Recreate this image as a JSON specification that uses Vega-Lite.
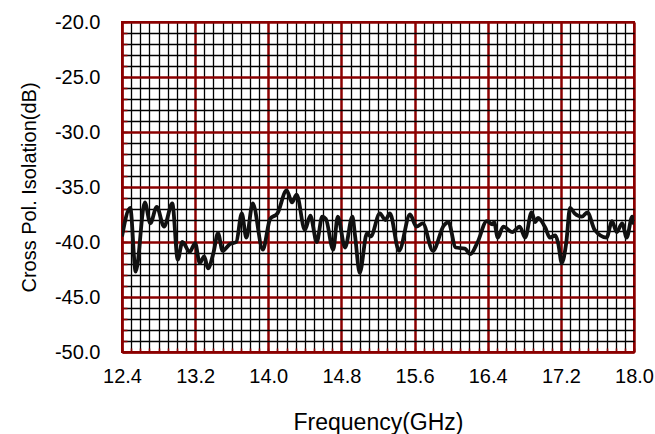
{
  "$schema": "https://vega.github.io/schema/vega-lite/v6.json",
  "autosize": {"type": "none"},
  "width": 512,
  "height": 330,
  "padding": {"left": 122, "top": 22, "right": 21, "bottom": 82},
  "background": "white",
  "config": {
    "view": {"stroke": "#8b0000", "strokeWidth": 2},
    "font": "Liberation Sans"
  },
  "data": {
    "values": [
      {"f": 12.40, "v": -39.5}, {"f": 12.49, "v": -36.9}, {"f": 12.55, "v": -42.7}, {"f": 12.65, "v": -36.4},
      {"f": 12.71, "v": -38.3}, {"f": 12.78, "v": -36.8}, {"f": 12.86, "v": -38.6}, {"f": 12.95, "v": -36.5},
      {"f": 13.01, "v": -41.6}, {"f": 13.06, "v": -40.0}, {"f": 13.14, "v": -40.9}, {"f": 13.20, "v": -40.1},
      {"f": 13.25, "v": -41.9}, {"f": 13.30, "v": -41.3}, {"f": 13.34, "v": -42.4}, {"f": 13.40, "v": -41.0},
      {"f": 13.45, "v": -39.2}, {"f": 13.50, "v": -40.8}, {"f": 13.58, "v": -40.2}, {"f": 13.65, "v": -40.0},
      {"f": 13.71, "v": -37.4}, {"f": 13.76, "v": -39.6}, {"f": 13.83, "v": -36.5}, {"f": 13.94, "v": -40.7},
      {"f": 14.02, "v": -37.9}, {"f": 14.10, "v": -37.4}, {"f": 14.20, "v": -35.3}, {"f": 14.26, "v": -36.4},
      {"f": 14.31, "v": -35.7}, {"f": 14.40, "v": -38.9}, {"f": 14.46, "v": -37.6}, {"f": 14.53, "v": -40.0},
      {"f": 14.59, "v": -37.7}, {"f": 14.63, "v": -37.9}, {"f": 14.71, "v": -40.7}, {"f": 14.76, "v": -37.7},
      {"f": 14.84, "v": -40.5}, {"f": 14.92, "v": -37.7}, {"f": 14.95, "v": -39.5}, {"f": 15.00, "v": -42.8},
      {"f": 15.08, "v": -39.2}, {"f": 15.12, "v": -39.5}, {"f": 15.22, "v": -37.4}, {"f": 15.28, "v": -38.0},
      {"f": 15.33, "v": -37.4}, {"f": 15.43, "v": -40.8}, {"f": 15.55, "v": -37.5}, {"f": 15.62, "v": -38.6},
      {"f": 15.69, "v": -38.3}, {"f": 15.80, "v": -40.8}, {"f": 15.92, "v": -38.5}, {"f": 15.97, "v": -38.2},
      {"f": 16.05, "v": -40.5}, {"f": 16.15, "v": -40.6}, {"f": 16.21, "v": -41.1}, {"f": 16.29, "v": -40.0},
      {"f": 16.39, "v": -38.1}, {"f": 16.45, "v": -38.4}, {"f": 16.47, "v": -38.2}, {"f": 16.51, "v": -39.6},
      {"f": 16.57, "v": -38.6}, {"f": 16.67, "v": -39.1}, {"f": 16.75, "v": -38.6}, {"f": 16.81, "v": -39.6},
      {"f": 16.88, "v": -37.3}, {"f": 16.92, "v": -38.2}, {"f": 16.95, "v": -37.8}, {"f": 17.03, "v": -38.7},
      {"f": 17.08, "v": -39.6}, {"f": 17.14, "v": -39.4}, {"f": 17.17, "v": -40.1}, {"f": 17.21, "v": -41.9},
      {"f": 17.26, "v": -40.0}, {"f": 17.30, "v": -36.9}, {"f": 17.35, "v": -37.4}, {"f": 17.43, "v": -37.7},
      {"f": 17.49, "v": -37.3}, {"f": 17.57, "v": -38.9}, {"f": 17.70, "v": -39.6}, {"f": 17.76, "v": -38.1},
      {"f": 17.81, "v": -39.1}, {"f": 17.87, "v": -38.3}, {"f": 17.92, "v": -39.6}, {"f": 17.98, "v": -37.7},
      {"f": 18.00, "v": -38.4}
    ]
  },
  "mark": {"type": "line", "color": "#111111", "strokeWidth": 3.8, "interpolate": "monotone", "clip": true},
  "encoding": {
    "x": {
      "field": "f", "type": "quantitative",
      "scale": {"domain": [12.4, 18.0], "nice": false, "zero": false},
      "axis": {
        "title": "Frequency(GHz)",
        "values": [12.4,12.5,12.6,12.7,12.8,12.9,13.0,13.1,13.2,13.3,13.4,13.5,13.6,13.7,13.8,13.9,14.0,14.1,14.2,14.3,14.4,14.5,14.6,14.7,14.8,14.9,15.0,15.1,15.2,15.3,15.4,15.5,15.6,15.7,15.8,15.9,16.0,16.1,16.2,16.3,16.4,16.5,16.6,16.7,16.8,16.9,17.0,17.1,17.2,17.3,17.4,17.5,17.6,17.7,17.8,17.9,18.0],
        "labelExpr": "abs(round(datum.value*10)-124) % 8 === 0 ? format(datum.value, '.1f') : ''",
        "labelOverlap": false,
        "labelFlush": false,
        "labelFontSize": 20,
        "labelColor": "black",
        "labelPadding": 18,
        "tickColor": "#8b0000",
        "tickSize": -4,
        "tickWidth": 1.5,
        "domainColor": "#8b0000",
        "domainWidth": 2,
        "grid": true,
        "gridColor": {"condition": {"test": "abs(round(datum.value*10)-124) % 8 === 0", "value": "#8b0000"}, "value": "#000000"},
        "gridWidth": {"condition": {"test": "abs(round(datum.value*10)-124) % 8 === 0", "value": 2.5}, "value": 1.3},
        "gridOpacity": 1,
        "titleFontSize": 23,
        "titleFontWeight": "normal",
        "titleColor": "black",
        "titlePadding": 25
      }
    },
    "y": {
      "field": "v", "type": "quantitative",
      "scale": {"domain": [-50, -20], "nice": false, "zero": false},
      "axis": {
        "title": "Cross Pol. Isolation(dB)",
        "values": [-50,-49,-48,-47,-46,-45,-44,-43,-42,-41,-40,-39,-38,-37,-36,-35,-34,-33,-32,-31,-30,-29,-28,-27,-26,-25,-24,-23,-22,-21,-20],
        "labelExpr": "datum.value % 5 === 0 ? replace(format(datum.value, '.1f'), '\u2212', '-') : ''",
        "labelOverlap": false,
        "labelFlush": false,
        "labelFontSize": 20,
        "labelColor": "black",
        "labelPadding": 27,
        "tickColor": "#8b0000",
        "tickSize": -5,
        "tickWidth": 1.5,
        "domainColor": "#8b0000",
        "domainWidth": 2,
        "grid": true,
        "gridColor": {"condition": {"test": "datum.value % 5 === 0", "value": "#8b0000"}, "value": "#000000"},
        "gridWidth": {"condition": {"test": "datum.value % 5 === 0", "value": 2.5}, "value": 1.3},
        "gridOpacity": 1,
        "titleFontSize": 20,
        "titleFontWeight": "normal",
        "titleColor": "black",
        "titlePadding": 15
      }
    }
  }
}
